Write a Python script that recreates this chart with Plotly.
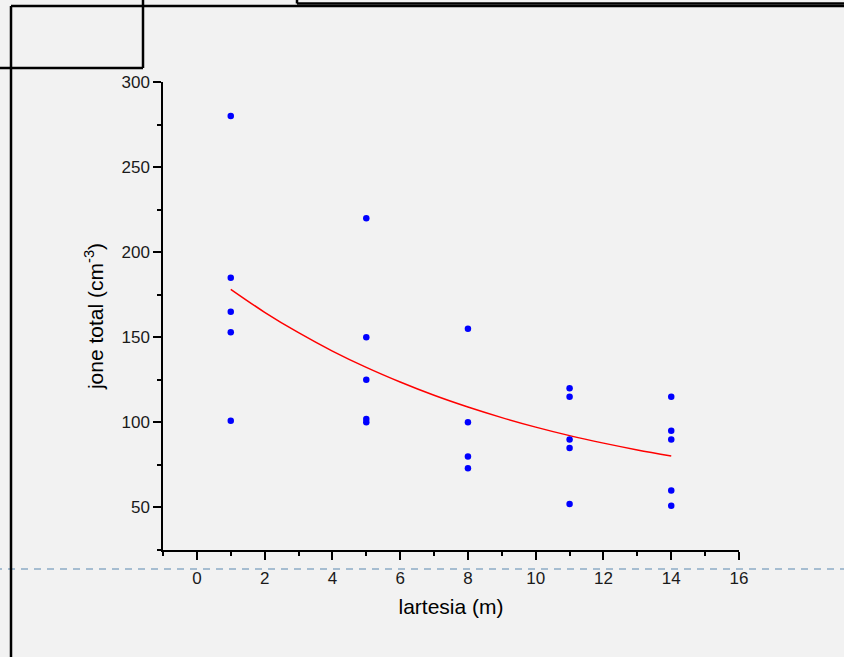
import plotly.graph_objects as go

# ---- data ----
distance_m = [1, 1, 1, 1, 1,
              5, 5, 5, 5, 5,
              8, 8, 8, 8,
              11, 11, 11, 11, 11,
              14, 14, 14, 14, 14]
ions_total = [280, 185, 165, 153, 101,
              220, 150, 125, 102, 100,
              155, 100, 80, 73,
              120, 115, 90, 85, 52,
              115, 95, 90, 60, 51]

# fitted curve values
fit_x = [1, 2, 3, 4, 5, 6, 7, 8, 9, 10, 11, 12, 13, 14]
fit_y = [178.2, 164.7, 152.7, 141.9, 132.3, 123.7, 115.9, 109.0,
         102.8, 97.2, 92.2, 87.8, 83.8, 80.2]

x_ticks = [0, 2, 4, 6, 8, 10, 12, 14, 16]
y_ticks = [50, 100, 150, 200, 250, 300]

W, H = 844, 657
L, R, T, B = 163, 105, 82, 107
PW, PH = W - L - R, H - T - B


def px(x):
    return (x - L) / PW


def py(y):
    return (H - B - y) / PH


fig = go.Figure()
fig.add_trace(go.Scatter(
    x=fit_x, y=fit_y, mode="lines", line=dict(color="#ff0000", width=1.5, shape="spline"),
    hoverinfo="skip", showlegend=False))
fig.add_trace(go.Scatter(
    x=distance_m, y=ions_total, mode="markers",
    marker=dict(color="#0000ff", size=6.5, line=dict(width=0)), showlegend=False))

line_black = dict(color="#000000", width=2.5)
shapes = [
    # dashed guide line
    dict(type="line", xref="paper", yref="paper", x0=px(-5), x1=px(W + 5), y0=py(569), y1=py(569),
         line=dict(color="#a6bdd1", width=2, dash="7px,6px"), layer="below"),
    # frame 1 (left + top)
    dict(type="line", xref="paper", yref="paper", x0=px(11), x1=px(11), y0=py(6), y1=py(H + 5), line=line_black),
    dict(type="line", xref="paper", yref="paper", x0=px(11), x1=px(W + 5), y0=py(6), y1=py(6), line=line_black),
    # small box top-left
    dict(type="line", xref="paper", yref="paper", x0=px(-5), x1=px(143), y0=py(68), y1=py(68), line=line_black),
    dict(type="line", xref="paper", yref="paper", x0=px(143), x1=px(143), y0=py(-5), y1=py(68), line=line_black),
    # top-right box
    dict(type="line", xref="paper", yref="paper", x0=px(297), x1=px(297), y0=py(-5), y1=py(3.5), line=line_black),
    dict(type="line", xref="paper", yref="paper", x0=px(297), x1=px(W + 5), y0=py(3.5), y1=py(3.5), line=line_black),
]

font = dict(family="Liberation Sans, Arial, sans-serif", color="#000000")
fig.update_layout(
    width=W, height=H,
    margin=dict(l=L, r=R, t=T, b=B, autoexpand=False),
    paper_bgcolor="#f2f2f2", plot_bgcolor="#f2f2f2",
    font=font,
    shapes=shapes,
    xaxis=dict(
        range=[-1, 16], tickvals=x_ticks, ticktext=[str(v) for v in x_ticks],
        showgrid=False, zeroline=False, showline=True, linecolor="#000000", linewidth=1.5,
        ticks="outside", ticklen=8, tickwidth=1.5, tickcolor="#000000", ticklabelstandoff=4,
        minor=dict(tickvals=list(range(-1, 17, 2)), ticks="outside", ticklen=4, tickwidth=1.5, tickcolor="#000000"),
        tickfont=dict(size=17, color="#1a1a1a"), title=dict(text="lartesia (m)", font=dict(size=21), standoff=12),
    ),
    yaxis=dict(
        range=[25, 300], tickvals=y_ticks, ticktext=[str(v) for v in y_ticks],
        showgrid=False, zeroline=False, showline=True, linecolor="#000000", linewidth=1.5,
        ticks="outside", ticklen=8, tickwidth=1.5, tickcolor="#000000",
        minor=dict(tickvals=list(range(25, 301, 50)), ticks="outside", ticklen=4, tickwidth=1.5, tickcolor="#000000"),
        tickfont=dict(size=17, color="#1a1a1a"), title=dict(text="jone total (cm<sup>-3</sup>)", font=dict(size=21), standoff=12),
    ),
)

fig.write_html(
    "out.html",
    config={"displayModeBar": False},
    post_script="document.body.style.margin='0';document.body.style.padding='0';"
                "document.body.style.background='#f2f2f2';"
                "document.documentElement.style.background='#f2f2f2';",
)
